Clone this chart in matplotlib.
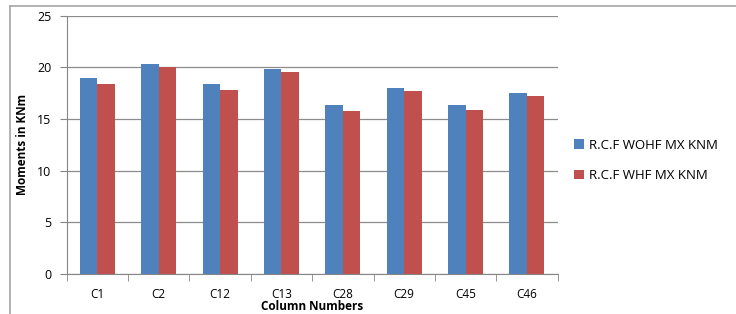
import matplotlib
matplotlib.use('Agg')

import matplotlib.pyplot as plt
import numpy as np
from matplotlib.lines import Line2D

columns = ['C1', 'C2', 'C12', 'C13', 'C28', 'C29', 'C45', 'C46']
wohf = [19.0, 20.35, 18.35, 19.8, 16.3, 18.0, 16.3, 17.55]
whf = [18.35, 20.05, 17.8, 19.5, 15.75, 17.7, 15.85, 17.2]

plt.rcParams['font.family'] = ['Open Sans', 'DejaVu Sans']

fig = plt.figure(figsize=(7.36, 3.14), dpi=100)
ax = fig.add_axes([0.0906, 0.1274, 0.667, 0.8232])

x = np.arange(len(columns))
w = 0.285
ax.bar(x - w / 2, wohf, w, color='#4F81BD', label='R.C.F WOHF MX KNM', zorder=3)
ax.bar(x + w / 2, whf, w, color='#C0504D', label='R.C.F WHF MX KNM', zorder=3)

ax.set_xlim(-0.5, len(columns) - 0.5)
ax.set_ylim(0, 25)
ax.set_yticks([0, 5, 10, 15, 20, 25])
ax.set_xticks(x)
ax.set_xticklabels(columns, fontsize=8.5)
ax.set_xticks(np.arange(-0.5, len(columns)), minor=True)
ax.tick_params(axis='x', which='major', length=0, pad=10)
ax.tick_params(axis='x', which='minor', length=5, color='#868686', direction='out')
ax.tick_params(axis='y', length=5, color='#868686', labelsize=9, pad=6)
ax.grid(axis='y', color='#8c8c8c', linewidth=0.9, zorder=0)

for s in ['top', 'right']:
    ax.spines[s].set_visible(False)
for s in ['left', 'bottom']:
    ax.spines[s].set_color('#868686')

ax.set_ylabel('Moments in KNm', fontsize=8.5, fontweight='bold', labelpad=6)
ax.set_xlabel('Column Numbers', fontsize=8.5, fontweight='bold', labelpad=-0.5)

ax.legend(loc='center left', bbox_to_anchor=(1.01, 0.44), frameon=False,
          fontsize=9.5, handlelength=0.7, handleheight=0.7, handletextpad=0.4,
          labelspacing=1.3)

# outer chart border
fig.add_artist(Line2D([0.0136, 1.0], [0.982, 0.982], color='#a6a6a6', lw=1.2))
fig.add_artist(Line2D([0.0136, 0.0136], [0.0, 0.982], color='#a6a6a6', lw=1.2))

plt.savefig('out.png', dpi=100)
plt.close()
